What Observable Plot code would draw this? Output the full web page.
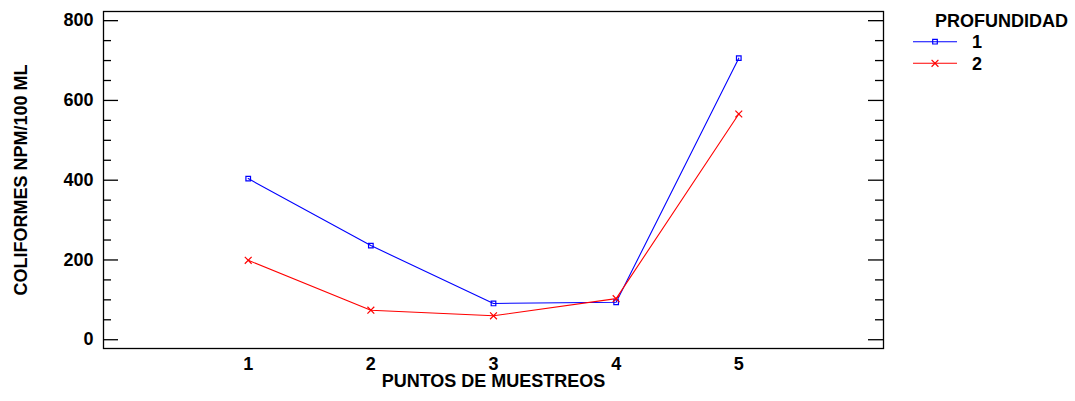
<!DOCTYPE html>
<html>
<head>
<meta charset="utf-8">
<script src="https://cdn.jsdelivr.net/npm/d3@7"></script>
<script src="https://cdn.jsdelivr.net/npm/@observablehq/plot@0.6"></script>
<style>
  html, body { margin: 0; padding: 0; background: #fff; }
  #wrap { position: relative; width: 1075px; height: 401px; font-family: "Liberation Sans", Arial, sans-serif; }
  #legend { position: absolute; left: 905px; top: 0; }
</style>
</head>
<body>
<div id="wrap"><div id="chart"></div><svg id="legend" width="170" height="90"></svg></div>
<script>
const puntos = [1, 2, 3, 4, 5];
const profundidad1 = [404, 236, 91, 94, 706];
const profundidad2 = [199, 74, 60, 103, 566];
const seriesNames = ["1", "2"];
const yMajorTicks = [0, 200, 400, 600, 800];
const yMinorTicks = [50, 100, 150, 250, 300, 350, 450, 500, 550, 650, 700, 750];
const xTickLabels = ["1", "2", "3", "4", "5"];

const colors = {"1": "#0000ff", "2": "#ff0000"};
const data = [];
puntos.forEach((p, i) => data.push({punto: p, valor: profundidad1[i], serie: "1"}));
puntos.forEach((p, i) => data.push({punto: p, valor: profundidad2[i], serie: "2"}));

const W = 1075, H = 401;
const mL = 103, mR = 192, mT = 11, mB = 53;
const plotW = W - mL - mR;
const font = "\"Liberation Sans\", Arial, sans-serif";

const chart = Plot.plot({
  width: W,
  height: H,
  marginLeft: mL,
  marginRight: mR,
  marginTop: mT,
  marginBottom: mB,
  style: {fontFamily: font, fontSize: "18px", fontWeight: "bold", color: "#000", background: "#fff"},
  x: {domain: [-0.18, 6.18]},
  y: {domain: [-22, 823]},
  marks: [
    Plot.frame({stroke: "#000", strokeWidth: 1.3}),
    Plot.tickY(yMajorTicks, {y: d => d, stroke: "#000", strokeWidth: 1.3, insetRight: plotW - 15}),
    Plot.tickY(yMinorTicks, {y: d => d, stroke: "#000", strokeWidth: 1.3, insetRight: plotW - 8}),
    Plot.tickY(yMajorTicks, {y: d => d, stroke: "#000", strokeWidth: 1.3, insetLeft: plotW - 15}),
    Plot.tickY(yMinorTicks, {y: d => d, stroke: "#000", strokeWidth: 1.3, insetLeft: plotW - 8}),
    Plot.axisY({ticks: yMajorTicks, tickSize: 0, tickPadding: 10, label: null, fontSize: 18, fontWeight: "bold"}),
    Plot.axisX({ticks: puntos, tickFormat: (d, i) => xTickLabels[i], tickSize: 0, tickPadding: 9, label: null, fontSize: 18, fontWeight: "bold"}),
    Plot.text(["PUNTOS DE MUESTREOS"], {frameAnchor: "bottom", dy: 38, fontSize: 18, fontWeight: "bold", fill: "#000", lineAnchor: "bottom"}),
    Plot.text(["COLIFORMES NPM/100 ML"], {frameAnchor: "left", dx: -82, rotate: -90, textAnchor: "middle", fontSize: 18, fontWeight: "bold", fill: "#000"}),
    Plot.line(data, {x: "punto", y: "valor", z: "serie", stroke: d => colors[d.serie], strokeWidth: 1.1}),
    Plot.dot(data.filter(d => d.serie === "1"), {x: "punto", y: "valor", symbol: "square", r: 2.6, stroke: colors["1"], fill: "none", strokeWidth: 1.2}),
    Plot.dot(data.filter(d => d.serie === "2"), {x: "punto", y: "valor", symbol: "times", r: 3.2, stroke: colors["2"], fill: "none", strokeWidth: 1.2})
  ]
});
document.getElementById("chart").appendChild(chart);

// Legend
const lg = d3.select("#legend");
lg.append("text").attr("x", 30).attr("y", 27).attr("font-family", font).attr("font-size", 18).attr("font-weight", "bold").text("PROFUNDIDAD");
const symSq = d3.symbol(d3.symbolSquare, Math.PI * 2.6 * 2.6);
const symX = d3.symbol(d3.symbolTimes, Math.PI * 3.2 * 3.2);
seriesNames.forEach((s, i) => {
  const y = 41.7 + i * 21.6;
  const g = lg.append("g");
  g.append("line").attr("x1", 8).attr("x2", 52).attr("y1", y).attr("y2", y).attr("stroke", colors[s]).attr("stroke-width", 1.1);
  g.append("path").attr("d", (i === 0 ? symSq : symX)()).attr("transform", `translate(30,${y})`).attr("fill", "none").attr("stroke", colors[s]).attr("stroke-width", 1.2);
  g.append("text").attr("x", 67).attr("y", y + 6.5).attr("font-family", font).attr("font-size", 18).attr("font-weight", "bold").text(s);
});
</script>
</body>
</html>
